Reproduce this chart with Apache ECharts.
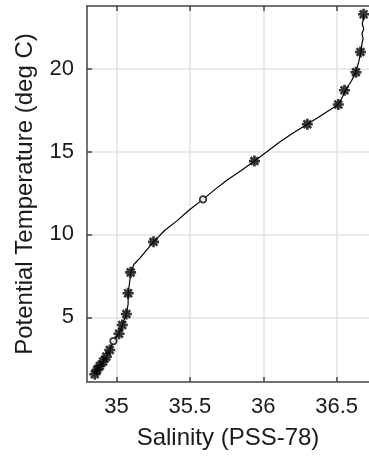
<!DOCTYPE html>
<html>
<head>
<meta charset="utf-8">
<script src="https://cdn.jsdelivr.net/npm/echarts@6/dist/echarts.min.js"></script>
<style>html,body{margin:0;padding:0;background:#fff}#c{width:369px;height:460px}</style>
</head>
<body>
<div id="c"></div>
<script>
// Continuous profile (salinity, potential temperature)
var profileSalinity = [34.853,34.869,34.887,34.91,34.932,34.955,34.98,35.018,35.04,35.068,35.08,35.08,35.09,35.097,35.12,35.163,35.21,35.253,35.33,35.41,35.5,35.59,35.67,35.752,35.85,35.94,36.02,36.11,36.2,36.3,36.4,36.51,36.54,36.56,36.6,36.63,36.65,36.665,36.672,36.68,36.672,36.684,36.674,36.683,36.683];
var profileTemp = [1.57,1.83,2.07,2.33,2.63,3.03,3.57,4.01,4.54,5.2,5.8,6.45,7.1,7.71,8.2,8.6,9.1,9.55,10.25,10.8,11.5,12.11,12.7,13.26,13.85,14.42,14.95,15.56,16.1,16.64,17.2,17.83,18.3,18.69,19.25,19.78,20.4,21.0,21.5,21.8,22.1,22.4,22.7,23.0,23.27];
// Bottle samples marked with asterisks
var starSalinity = [36.683,36.662,36.631,36.553,36.511,36.30,35.94,35.253,35.097,35.08,35.068,35.04,35.018,34.955,34.932,34.91,34.887,34.869,34.853];
var starTemp = [23.27,21.0,19.78,18.69,17.83,16.64,14.42,9.55,7.71,6.45,5.2,4.54,4.01,3.03,2.63,2.33,2.07,1.83,1.57];
// Samples marked with circles
var circleSalinity = [35.59,34.98];
var circleTemp = [12.11,3.57];
// Ticks
var xTicks = [35,35.5,36,36.5];
var yTicks = [5,10,15,20];

function pairs(a,b){return a.map(function(v,i){return [v,b[i]];});}

var font = 'Liberation Sans, Arial, Helvetica, sans-serif';
var axisCol = '#444';
var chart = echarts.init(document.getElementById('c'), null, {renderer:'canvas'});
var asterisk = 'path://M5 0L5 10M0 5L10 5M1.5 1.5L8.5 8.5M8.5 1.5L1.5 8.5';
chart.setOption({
  animation:false,
  backgroundColor:'#fff',
  grid:{left:87,right:0,top:6,bottom:78},
  xAxis:[{
    type:'value',min:34.8,max:36.72,position:'bottom',
    name:'Salinity (PSS-78)',nameLocation:'middle',nameGap:44,
    nameTextStyle:{fontFamily:font,fontSize:24,color:'#1a1a1a'},
    axisLine:{show:true,onZero:false,lineStyle:{color:axisCol,width:1.5}},
    axisTick:{show:true,inside:true,length:5,customValues:xTicks,lineStyle:{color:axisCol,width:1.5}},
    axisLabel:{customValues:xTicks,margin:14,fontFamily:font,fontSize:22,color:'#1a1a1a',formatter:function(v){return String(v);}},
    splitLine:{show:true,lineStyle:{color:'#e3e3e3',width:1.5}}
  },{
    type:'value',min:34.8,max:36.72,position:'top',
    axisLine:{show:true,onZero:false,lineStyle:{color:axisCol,width:1.5}},
    axisTick:{show:true,inside:true,length:5,customValues:xTicks,lineStyle:{color:axisCol,width:1.5}},
    axisLabel:{show:false},splitLine:{show:false}
  }],
  yAxis:[{
    type:'value',min:1.1,max:23.77,
    name:'Potential Temperature (deg C)',nameLocation:'middle',nameGap:50,
    nameTextStyle:{fontFamily:font,fontSize:24,color:'#1a1a1a'},
    axisLine:{show:true,onZero:false,lineStyle:{color:axisCol,width:1.5}},
    axisTick:{show:true,inside:true,length:5,customValues:yTicks,lineStyle:{color:axisCol,width:1.5}},
    axisLabel:{customValues:yTicks,margin:13,fontFamily:font,fontSize:22,color:'#1a1a1a'},
    splitLine:{show:true,lineStyle:{color:'#e3e3e3',width:1.5}}
  }],
  series:[{
    type:'line',data:pairs(profileSalinity,profileTemp),showSymbol:false,
    lineStyle:{color:'#000',width:1.2},z:2
  },{
    type:'scatter',data:pairs(starSalinity,starTemp),symbol:asterisk,symbolSize:11,
    itemStyle:{color:'#000',borderColor:'#000',borderWidth:2.6},z:3
  },{
    type:'scatter',data:pairs(circleSalinity,circleTemp),symbol:'circle',symbolSize:6.5,
    itemStyle:{color:'#fff',borderColor:'#000',borderWidth:1.8},z:3
  }]
});
</script>
</body>
</html>
